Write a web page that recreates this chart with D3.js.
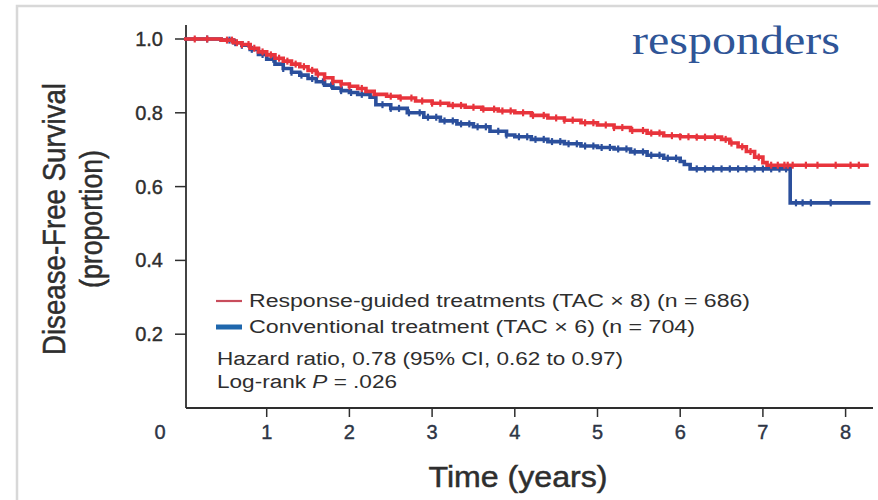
<!DOCTYPE html>
<html>
<head>
<meta charset="utf-8">
<script src="https://cdn.jsdelivr.net/npm/d3@7"></script>
<style>
  body { margin: 0; background: #fff; }
  svg { display: block; }
</style>
</head>
<body>
<div id="chart"></div>
<script>
(function () {
  var W = 878, H = 500;

  // Kaplan-Meier steps: [years, proportion]
  var redSteps = [
    [0, 1.0], [0.45, 0.997], [0.6, 0.99], [0.7, 0.985], [0.8, 0.975], [0.9, 0.965],
    [1.0, 0.957], [1.1, 0.948], [1.2, 0.94], [1.3, 0.932], [1.4, 0.925], [1.5, 0.915],
    [1.6, 0.905], [1.7, 0.895], [1.8, 0.885], [1.9, 0.878], [2.0, 0.872], [2.1, 0.866],
    [2.2, 0.858], [2.3, 0.85], [2.45, 0.845], [2.6, 0.84], [2.8, 0.832], [3.0, 0.826],
    [3.2, 0.82], [3.4, 0.815], [3.6, 0.81], [3.8, 0.805], [4.0, 0.8], [4.2, 0.793],
    [4.4, 0.786], [4.6, 0.78], [4.8, 0.773], [5.0, 0.767], [5.2, 0.76], [5.4, 0.752],
    [5.6, 0.745], [5.8, 0.738], [6.0, 0.735], [6.2, 0.734], [6.5, 0.728], [6.6, 0.718],
    [6.7, 0.708], [6.8, 0.695], [6.9, 0.68], [7.0, 0.665], [7.05, 0.658], [8.28, 0.658]
  ];
  var blueSteps = [
    [0, 1.0], [0.45, 0.997], [0.6, 0.99], [0.7, 0.983], [0.8, 0.972], [0.9, 0.958],
    [1.0, 0.945], [1.1, 0.932], [1.2, 0.92], [1.3, 0.91], [1.4, 0.902], [1.5, 0.893],
    [1.6, 0.884], [1.7, 0.875], [1.8, 0.867], [1.9, 0.86], [2.0, 0.855], [2.1, 0.85],
    [2.25, 0.842], [2.32, 0.822], [2.5, 0.812], [2.7, 0.8], [2.9, 0.788], [3.1, 0.778],
    [3.3, 0.77], [3.5, 0.762], [3.7, 0.75], [3.9, 0.74], [4.0, 0.735], [4.2, 0.728],
    [4.4, 0.722], [4.6, 0.716], [4.8, 0.71], [5.0, 0.706], [5.2, 0.702], [5.4, 0.694],
    [5.6, 0.685], [5.8, 0.677], [6.0, 0.668], [6.05, 0.66], [6.12, 0.648], [7.33, 0.556],
    [8.3, 0.556]
  ];

  // censoring marks (years)
  var redCensor = [0.13, 0.28, 0.52, 0.58, 0.64, 0.7, 0.78, 0.85, 0.95, 1.05, 1.15, 1.25,
    1.35, 1.45, 1.55, 1.62, 1.7, 1.8, 1.9, 2.0, 2.15, 2.5, 2.62, 2.75, 2.88, 3.0, 3.1,
    3.25, 3.35, 3.5, 3.62, 3.75, 3.85, 3.95, 4.1, 4.22, 4.35, 4.5, 4.6, 4.7, 4.85, 4.95,
    5.1, 5.2, 5.3, 5.42, 5.55, 5.65, 5.75, 5.9, 6.0, 6.1, 6.2, 6.3, 6.42, 6.55, 6.62,
    6.75, 6.85, 6.95, 7.1, 7.18, 7.26, 7.3, 7.36, 7.52, 7.66, 7.88, 8.06, 8.16];
  var blueCensor = [0.28, 0.55, 0.62, 0.7, 0.82, 0.95, 1.08, 1.2, 1.3, 1.42, 1.55, 1.68,
    1.78, 1.9, 2.02, 2.15, 2.4, 2.5, 2.6, 2.72, 2.85, 2.95, 3.05, 3.15, 3.25, 3.35, 3.45,
    3.55, 3.65, 3.8, 3.9, 4.05, 4.15, 4.25, 4.35, 4.45, 4.55, 4.65, 4.75, 4.85, 4.95,
    5.05, 5.15, 5.25, 5.35, 5.45, 5.55, 5.65, 5.75, 5.85, 5.95, 6.2, 6.3, 6.4, 6.5, 6.6,
    6.7, 6.8, 6.9, 7.0, 7.1, 7.2, 7.28, 7.4, 7.48, 7.58, 7.82];

  var xTicks = [1, 2, 3, 4, 5, 6, 7, 8];
  var yTicks = [0.2, 0.4, 0.6, 0.8, 1.0];
  var legendLabels = [
    'Response-guided treatments (TAC \u00d7 8) (n = 686)',
    'Conventional treatment (TAC \u00d7 6) (n = 704)'
  ];

  var RED = '#e8343c', BLUE = '#2b4f9c';
  var INK = '#2e2e2e';

  var svg = d3.select('#chart').append('svg')
      .attr('width', W).attr('height', H);

  // slide frame
  svg.append('path')
      .attr('d', 'M17,500 V6 H878')
      .attr('fill', 'none')
      .attr('stroke', '#d8d8d8')
      .attr('stroke-width', 2.5);

  var x = d3.scaleLinear().domain([0, 8]).range([184, 845.6]);
  var y = d3.scaleLinear().domain([0, 1]).range([408, 39]);

  // axes
  svg.append('line')
      .attr('x1', 186).attr('x2', 186).attr('y1', 25).attr('y2', 408)
      .attr('stroke', INK).attr('stroke-width', 1.8);
  svg.append('line')
      .attr('x1', 186).attr('x2', 873).attr('y1', 408).attr('y2', 408)
      .attr('stroke', INK).attr('stroke-width', 1.8);

  var fam = '"Liberation Sans", Arial, sans-serif';

  svg.selectAll('.ytick').data(yTicks).enter().append('line')
      .attr('x1', 175).attr('x2', 186)
      .attr('y1', function (d) { return y(d); })
      .attr('y2', function (d) { return y(d); })
      .attr('stroke', INK).attr('stroke-width', 1.5);
  svg.selectAll('.ylab').data(yTicks).enter().append('text')
      .attr('x', 163)
      .attr('y', function (d) { return y(d) + 7; })
      .attr('text-anchor', 'end')
      .attr('font-family', fam).attr('font-size', 20)
      .attr('fill', INK).attr('stroke', INK).attr('stroke-width', 0.4)
      .text(function (d) { return d.toFixed(1); });

  svg.selectAll('.xtick').data(xTicks).enter().append('line')
      .attr('x1', function (d) { return x(d); })
      .attr('x2', function (d) { return x(d); })
      .attr('y1', 408).attr('y2', 417)
      .attr('stroke', INK).attr('stroke-width', 1.5);
  svg.selectAll('.xlab').data(xTicks).enter().append('text')
      .attr('x', function (d) { return x(d); })
      .attr('y', 439)
      .attr('text-anchor', 'middle')
      .attr('font-family', fam).attr('font-size', 20)
      .attr('fill', '#2d3545').attr('stroke', '#2d3545').attr('stroke-width', 0.4)
      .text(function (d) { return d; });
  svg.append('text')
      .attr('x', 160).attr('y', 439)
      .attr('text-anchor', 'middle')
      .attr('font-family', fam).attr('font-size', 20)
      .attr('fill', '#2d3545').attr('stroke', '#2d3545').attr('stroke-width', 0.4)
      .text('0');

  // axis titles
  svg.append('text')
      .attr('transform', 'translate(65,219) rotate(-90)')
      .attr('text-anchor', 'middle')
      .attr('font-family', fam).attr('font-size', 31)
      .attr('fill', INK).attr('stroke', INK).attr('stroke-width', 0.5)
      .attr('textLength', 272).attr('lengthAdjust', 'spacingAndGlyphs')
      .text('Disease-Free Survival');
  svg.append('text')
      .attr('transform', 'translate(102,219) rotate(-90)')
      .attr('text-anchor', 'middle')
      .attr('font-family', fam).attr('font-size', 31)
      .attr('fill', INK).attr('stroke', INK).attr('stroke-width', 0.5)
      .attr('textLength', 138).attr('lengthAdjust', 'spacingAndGlyphs')
      .text('(proportion)');
  svg.append('text')
      .attr('x', 518).attr('y', 487)
      .attr('text-anchor', 'middle')
      .attr('font-family', fam).attr('font-size', 30)
      .attr('fill', INK).attr('stroke', INK).attr('stroke-width', 0.5)
      .attr('textLength', 179).attr('lengthAdjust', 'spacingAndGlyphs')
      .text('Time (years)');

  // curves
  var line = d3.line()
      .x(function (d) { return x(d[0]); })
      .y(function (d) { return y(d[1]); })
      .curve(d3.curveStepAfter);

  function survAt(steps, t) {
    var s = steps[0][1];
    steps.forEach(function (p) { if (p[0] <= t) { s = p[1]; } });
    return s;
  }

  function drawCurve(steps, censor, color, width) {
    svg.append('path')
        .datum(steps)
        .attr('d', line)
        .attr('fill', 'none')
        .attr('stroke', color)
        .attr('stroke-width', width);
    svg.selectAll(null).data(censor).enter().append('line')
        .attr('x1', function (d) { return x(d); })
        .attr('x2', function (d) { return x(d); })
        .attr('y1', function (d) { return y(survAt(steps, d)) - 3.5; })
        .attr('y2', function (d) { return y(survAt(steps, d)) + 3.5; })
        .attr('stroke', color)
        .attr('stroke-width', 2.2);
  }

  drawCurve(blueSteps, blueCensor, BLUE, 3.6);
  drawCurve(redSteps, redCensor, RED, 3.6);

  // legend
  svg.append('line')
      .attr('x1', 216).attr('x2', 242).attr('y1', 301).attr('y2', 301)
      .attr('stroke', '#c84d5c').attr('stroke-width', 2.2);
  svg.append('line')
      .attr('x1', 216).attr('x2', 242).attr('y1', 327).attr('y2', 327)
      .attr('stroke', '#1f67ad').attr('stroke-width', 5);
  var legW = [501, 446];
  svg.selectAll('.leg').data(legendLabels).enter().append('text')
      .attr('x', 249)
      .attr('y', function (d, i) { return 307 + i * 26; })
      .attr('font-family', fam).attr('font-size', 18)
      .attr('fill', INK)
      .attr('textLength', function (d, i) { return legW[i]; })
      .attr('lengthAdjust', 'spacingAndGlyphs')
      .text(function (d) { return d; });
  svg.append('text')
      .attr('x', 217).attr('y', 365)
      .attr('font-family', fam).attr('font-size', 18)
      .attr('fill', INK)
      .attr('textLength', 406).attr('lengthAdjust', 'spacingAndGlyphs')
      .text('Hazard ratio, 0.78 (95% CI, 0.62 to 0.97)');
  var lr = svg.append('text')
      .attr('x', 217).attr('y', 388)
      .attr('font-family', fam).attr('font-size', 18)
      .attr('fill', INK)
      .attr('textLength', 180).attr('lengthAdjust', 'spacingAndGlyphs');
  lr.append('tspan').text('Log-rank ');
  lr.append('tspan').attr('font-style', 'italic').text('P');
  lr.append('tspan').text(' = .026');

  // slide label
  svg.append('text')
      .attr('x', 632).attr('y', 54)
      .attr('font-family', '"Liberation Serif", "DejaVu Serif", serif')
      .attr('font-size', 40)
      .attr('fill', '#2f5597')
      .attr('textLength', 208).attr('lengthAdjust', 'spacingAndGlyphs')
      .text('responders');
}());
</script>
</body>
</html>
